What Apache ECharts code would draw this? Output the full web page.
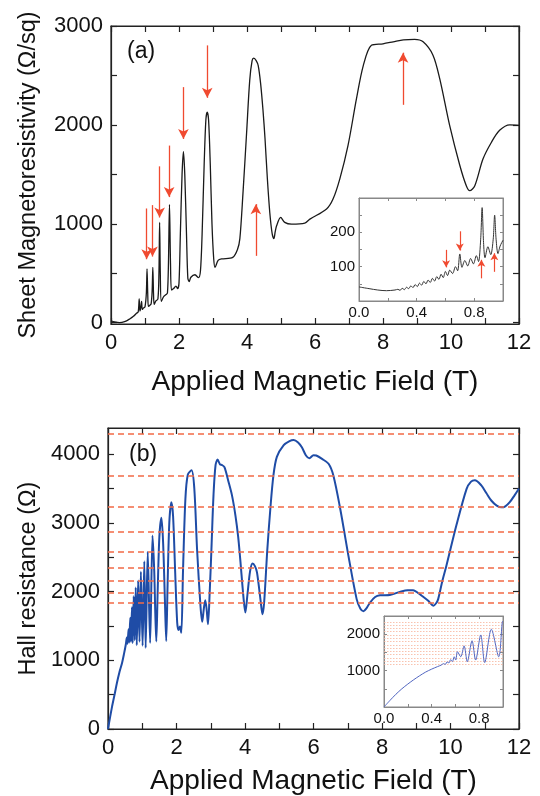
<!DOCTYPE html>
<html>
<head>
<meta charset="utf-8">
<script src="https://cdn.jsdelivr.net/npm/echarts@6/dist/echarts.min.js"></script>
<style>html,body{margin:0;background:#fff}#c{width:540px;height:796px}</style>
</head>
<body>
<div id="c"></div>
<script>
const FONT = 'Liberation Sans, Arial, sans-serif'

// panel (a): sheet magnetoresistivity vs field
const mr_field = [0,0.1,0.25,0.4,0.55,0.66,0.75,0.8,0.83,0.85,0.87,0.9,0.92,0.96,1.0,1.04,1.06,1.08,1.1,1.14,1.18,1.21,1.23,1.25,1.27,1.32,1.38,1.41,1.43,1.45,1.48,1.55,1.62,1.66,1.69,1.72,1.75,1.78,1.84,1.91,1.96,2.0,2.04,2.09,2.13,2.17,2.22,2.26,2.3,2.35,2.47,2.57,2.63,2.68,2.74,2.79,2.83,2.87,2.92,2.97,3.02,3.06,3.15,3.25,3.58,3.72,3.79,3.88,3.99,4.08,4.15,4.2,4.27,4.33,4.4,4.47,4.53,4.6,4.67,4.74,4.79,4.83,4.87,4.99,5.11,5.31,5.7,5.85,6.34,6.53,6.73,6.97,7.22,7.42,7.66,8.0,8.3,8.6,8.93,9.18,9.47,9.67,9.96,10.26,10.45,10.55,10.7,10.94,11.19,11.43,11.73,12]
const mr_value = [20,8,0,10,38,65,95,110,240,118,140,215,135,150,160,300,545,300,165,175,190,320,560,300,185,220,240,500,1015,500,215,265,285,300,600,1195,600,330,345,370,345,400,900,1500,1730,1500,900,450,415,460,485,455,520,900,1600,2050,2128,2050,1600,1000,650,560,630,645,660,740,850,1300,1930,2450,2650,2676,2650,2600,2420,2150,1860,1450,1115,900,850,920,980,1065,1015,997,1007,1047,1150,1250,1455,1790,2265,2600,2805,2820,2840,2860,2865,2840,2705,2465,1995,1590,1385,1335,1385,1655,1825,1945,2000,1995]

// arrows in (a)
const arrow_x = [1.05,1.22,1.43,1.71,2.13,2.83,4.26,8.59]
const arrow_from = [1155,1189,1581,1791,2382,2804,676,2203]
const arrow_to = [642,669,1064,1270,1858,2274,1199,2730]

// inset of (a)
const mr_low_field = [0,0.07,0.13,0.19,0.25,0.27,0.285,0.3,0.315,0.33,0.345,0.36,0.375,0.39,0.405,0.42,0.435,0.45,0.465,0.48,0.495,0.51,0.525,0.54,0.555,0.57,0.585,0.6,0.615,0.63,0.65,0.67,0.685,0.7,0.715,0.735,0.755,0.775,0.795,0.815,0.83,0.845,0.855,0.865,0.875,0.895,0.915,0.932,0.942,0.952,0.965,0.98,1.0]
const mr_low_value = [41,36,32,30,32,34,31,37,33,40,36,44,39,48,42,52,46,57,50,61,54,66,58,71,63,78,68,86,74,90,80,100,88,137,98,118,102,124,108,132,115,180,272,170,126,158,135,180,250,180,138,160,177]
const inset_arrow_x = [0.605,0.70,0.85,0.94]
const inset_arrow_from = [149,203,66,85]
const inset_arrow_to = [98,147,120,139]

// panel (b): Hall resistance vs field
const hall_field = [0,0.06,0.12,0.2,0.26,0.33,0.41,0.47,0.52,0.55,0.57,0.6,0.62,0.65,0.67,0.7,0.72,0.75,0.78,0.81,0.84,0.88,0.92,0.96,1.01,1.06,1.1,1.16,1.23,1.3,1.35,1.38,1.41,1.45,1.5,1.56,1.61,1.66,1.7,1.74,1.79,1.85,1.9,1.96,2.02,2.06,2.1,2.14,2.19,2.26,2.33,2.44,2.52,2.6,2.7,2.75,2.8,2.84,2.88,2.92,2.97,3.02,3.08,3.14,3.2,3.27,3.33,3.4,3.52,3.62,3.72,3.8,3.86,3.96,4.01,4.07,4.15,4.22,4.29,4.35,4.45,4.51,4.56,4.65,4.74,4.83,4.93,5.13,5.3,5.42,5.55,5.66,5.78,5.88,6.0,6.08,6.25,6.44,6.58,6.78,7.02,7.26,7.37,7.46,7.55,7.65,7.8,7.94,8.23,8.52,8.75,8.91,9.05,9.16,9.35,9.5,9.58,9.64,9.76,9.88,10.17,10.47,10.6,10.71,10.9,11.05,11.19,11.35,11.49,11.6,11.73,11.87,12]
const hall_value = [0,170,330,520,670,820,960,1100,1230,1330,1240,1450,1260,1620,1270,1770,1250,1930,1290,2060,1220,2160,1270,2290,1210,2440,1180,2580,1250,2815,2300,1700,1275,2000,2800,3075,2700,1900,1280,2100,3000,3300,3100,2300,1550,1440,1490,1400,2300,3350,3700,3765,3500,2620,1790,1560,1760,1875,1740,1525,2000,2620,3400,3840,3920,3850,3840,3810,3595,3400,3110,2800,2475,1890,1695,1950,2300,2410,2370,2280,1890,1670,1850,2600,3205,3690,3960,4130,4190,4205,4170,4100,3980,3940,3985,3980,3930,3860,3690,3205,2520,1890,1750,1715,1760,1840,1920,1945,1950,1995,2020,2020,1980,1940,1865,1795,1830,1890,2150,2375,2960,3495,3600,3620,3545,3430,3325,3250,3225,3240,3300,3400,3500]
const plateau_levels = [4302,3688,3227,2868,2581,2347,2151,1986,1844]

// inset of (b)
const hall_low_field = [0,0.05,0.1,0.15,0.2,0.25,0.3,0.35,0.4,0.45,0.48,0.5,0.515,0.53,0.545,0.56,0.575,0.59,0.603,0.617,0.645,0.673,0.7,0.74,0.77,0.813,0.846,0.902,0.964,0.994,1.0]
const hall_low_value = [0,180,350,500,630,750,860,960,1040,1110,1150,1190,1170,1240,1210,1300,1250,1380,1290,1520,1380,1680,1245,1820,1290,1980,1220,2135,1380,2340,2360]
const inset_levels = [2340,2250,2160,2070,1980,1890,1800,1710,1620,1530,1440,1350,1260,1170]

const zip = (xs, ys) => xs.map((x, i) => [x, ys[i]])
const range = (a, b, s) => {
    const out = []
    for (let i = 0; a + i * s <= b + 1e-9; i++) out.push(+(a + i * s).toFixed(3))
    return out
}

const x_axis = (grid, min, max, ticks, labels, o) => ({
    type: 'value', gridIndex: grid, min, max,
    position: o.top ? 'top' : 'bottom',
    axisLine: {show: true, onZero: false, lineStyle: {color: o.color, width: o.lw}},
    axisTick: {show: true, inside: true, length: o.tl, customValues: ticks, lineStyle: {color: o.color, width: o.lw}},
    axisLabel: labels ? {
        show: true, customValues: labels, margin: o.margin, color: '#111',
        fontFamily: FONT, fontSize: o.fs, formatter: o.fmt || (v => String(v)),
    } : {show: false},
    splitLine: {show: false},
    name: o.name || '', nameLocation: 'middle', nameGap: o.nameGap || 0,
    nameTextStyle: {fontFamily: FONT, fontSize: 28, color: '#111'},
})

const y_axis = (grid, min, max, ticks, labels, o) => ({
    type: 'value', gridIndex: grid, min, max,
    position: o.right ? 'right' : 'left',
    axisLine: {show: true, onZero: false, lineStyle: {color: o.color, width: o.lw}},
    axisTick: {show: true, inside: true, length: o.tl, customValues: ticks, lineStyle: {color: o.color, width: o.lw}},
    axisLabel: labels ? {
        show: true, customValues: labels, margin: o.margin, color: '#111',
        fontFamily: FONT, fontSize: o.fs, formatter: v => String(v),
    } : {show: false},
    splitLine: {show: false},
    name: o.name || '', nameLocation: 'middle', nameGap: o.nameGap || 0,
    nameTextStyle: {fontFamily: FONT, fontSize: 23.5, color: '#111'},
})

const main = {color: '#222', lw: 1.2, tl: 6, fs: 22, margin: 8}
const ins = {color: '#888', lw: 1, tl: 3, fs: 15, margin: 4}
const f1 = v => v.toFixed(1)

const arrows = (xs, from, to, size) => xs.map((x, i) => [
    {coord: [x, from[i]], symbol: 'none'},
    {coord: [x, to[i]], symbol: 'arrow', symbolSize: size},
])

const chart = echarts.init(document.getElementById('c'), null, {renderer: 'canvas'})

chart.setOption({
    animation: false,
    backgroundColor: '#fff',
    grid: [
        {left: 111, right: 21, top: 26, bottom: 472, show: true, borderColor: '#222', borderWidth: 1.2, outerBoundsMode: 'none'},
        {left: 108, right: 21, top: 428, bottom: 67, show: true, borderColor: '#222', borderWidth: 1.2, outerBoundsMode: 'none'},
        {left: 359, right: 37, top: 198, bottom: 495, show: true, borderColor: '#888', borderWidth: 1, backgroundColor: '#fff', outerBoundsMode: 'none'},
        {left: 384, right: 37, top: 616, bottom: 89, show: true, borderColor: '#888', borderWidth: 1, backgroundColor: '#fff', outerBoundsMode: 'none'},
    ],
    xAxis: [
        x_axis(0, 0, 12, range(0, 12, 1), range(0, 12, 2), {...main, name: 'Applied Magnetic Field (T)', nameGap: 44}),
        x_axis(0, 0, 12, range(0, 12, 1), null, {...main, top: true}),
        x_axis(1, 0, 12, range(0, 12, 1), range(0, 12, 2), {...main, name: 'Applied Magnetic Field (T)', nameGap: 38}),
        x_axis(1, 0, 12, range(0, 12, 1), null, {...main, top: true}),
        x_axis(2, 0, 1, range(0, 1, 0.2), [0, 0.4, 0.8], {...ins, fmt: f1}),
        x_axis(2, 0, 1, range(0, 1, 0.2), null, {...ins, top: true}),
        x_axis(3, 0, 1, range(0, 1, 0.2), [0, 0.4, 0.8], {...ins, fmt: f1}),
        x_axis(3, 0, 1, range(0, 1, 0.2), null, {...ins, top: true}),
    ],
    yAxis: [
        y_axis(0, -13, 3000, range(0, 3000, 500), range(0, 3000, 1000), {...main, name: 'Sheet Magnetoresistivity (Ω/sq)', nameGap: 70}),
        y_axis(0, -13, 3000, range(0, 3000, 500), null, {...main, right: true}),
        y_axis(1, 0, 4380, range(0, 4000, 500), range(0, 4000, 1000), {...main, name: 'Hall resistance (Ω)', nameGap: 65}),
        y_axis(1, 0, 4380, range(0, 4000, 500), null, {...main, right: true}),
        y_axis(2, 0, 300, range(50, 250, 50), [100, 200], ins),
        y_axis(2, 0, 300, range(50, 250, 50), null, {...ins, right: true}),
        y_axis(3, 0, 2500, range(500, 2000, 500), [1000, 2000], ins),
        y_axis(3, 0, 2500, range(500, 2000, 500), null, {...ins, right: true}),
    ],
    series: [
        {
            type: 'line', xAxisIndex: 0, yAxisIndex: 0,
            data: zip(mr_field, mr_value),
            showSymbol: false, smooth: 0.3,
            lineStyle: {color: '#1a1a1a', width: 1.3},
            markLine: {
                silent: true, animation: false, label: {show: false},
                lineStyle: {color: '#f04a30', width: 1.3, type: 'solid'},
                data: arrows(arrow_x, arrow_from, arrow_to, [8, 10]),
            },
        },
        {
            type: 'line', xAxisIndex: 2, yAxisIndex: 2,
            data: zip(hall_field, hall_value),
            showSymbol: false, smooth: 0.3,
            lineStyle: {color: '#1f4ca6', width: 2},
            markLine: {
                silent: true, animation: false, symbol: 'none', label: {show: false},
                lineStyle: {color: '#f26a45', width: 1.5, type: [6, 4]},
                data: plateau_levels.map(v => ({yAxis: v})),
            },
        },
        {
            type: 'line', xAxisIndex: 4, yAxisIndex: 4,
            data: zip(mr_low_field, mr_low_value),
            showSymbol: false, smooth: 0.3, z: 5,
            lineStyle: {color: '#333', width: 1},
            markLine: {
                silent: true, animation: false, label: {show: false},
                lineStyle: {color: '#f04a30', width: 1.2, type: 'solid'},
                data: arrows(inset_arrow_x, inset_arrow_from, inset_arrow_to, [6, 7]),
            },
        },
        {
            type: 'line', xAxisIndex: 6, yAxisIndex: 6,
            data: zip(hall_low_field, hall_low_value),
            showSymbol: false, smooth: 0.3, z: 5,
            lineStyle: {color: '#5266c0', width: 1},
            markLine: {
                silent: true, animation: false, symbol: 'none', label: {show: false},
                lineStyle: {color: '#f7b49a', width: 0.8, type: [1.5, 1.5]},
                data: inset_levels.map(v => ({yAxis: v})),
            },
        },
    ],
    graphic: [
        {type: 'text', left: 127, top: 40, style: {text: '(a)', font: '23px ' + FONT, fill: '#111'}},
        {type: 'text', left: 129, top: 443, style: {text: '(b)', font: '23px ' + FONT, fill: '#111'}},
    ],
})
</script>
</body>
</html>
